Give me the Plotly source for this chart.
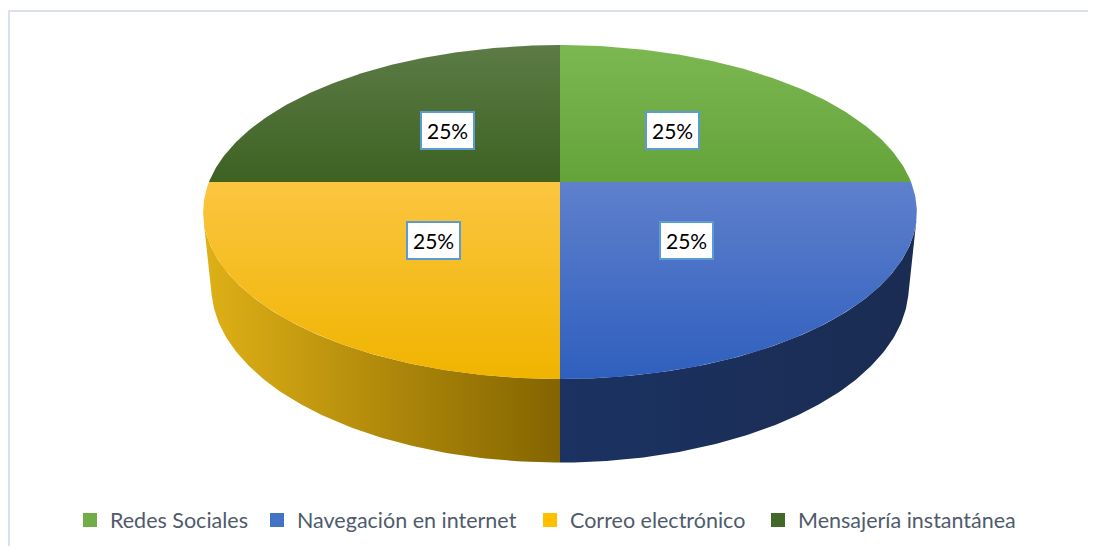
import math
import numpy as np
import plotly.graph_objects as go

# ---- data ----
categories = ["Redes Sociales", "Navegación en internet", "Correo electrónico", "Mensajería instantánea"]
values = [25, 25, 25, 25]
top_colors = [("#64a23a", "#7cb852"), ("#2f5fbe", "#5f80cc"), ("#f0b400", "#fbc540"), ("#3d6222", "#5c7b46")]
side_colors = [("#5a9130", "#3f6a22"), ("#1b3262", "#1a2c52"), ("#dfb016", "#836400"), ("#36571e", "#2a4517")]
legend_colors = ["#70ad47", "#4472c4", "#ffc000", "#43682b"]

# ---- figure geometry (page body has an 8px margin) ----
W, HT = 1080, 538
PIE_CX, PIE_CY = 552, 174      # pixel position of pie centre inside the figure
legend_text_px = [110, 297, 570, 798]   # left positions of the legend texts (page px)

# ---- 3D projection parameters ----
R = 1.0
PHI = math.radians(27.4)      # camera elevation
PERSP = 0.18                  # perspective strength
LCAM = math.cos(PHI) / PERSP
H = LCAM * math.sin(PHI)
D = LCAM * math.cos(PHI)
F = 351 * LCAM
THICK = 0.24
LABEL_R = 0.48


def proj(x, yw, z):
    depth = (H * H - yw * H + z * D + D * D) / LCAM
    up = (yw * D + z * H) / LCAM
    return F * x / depth, F * up / depth


def arc(t0, t1, yw, n=120):
    ts = np.linspace(t0, t1, n)
    pts = [proj(R * math.cos(t), yw, R * math.sin(t)) for t in ts]
    return [p[0] for p in pts], [p[1] for p in pts]


fig = go.Figure()
total = sum(values)
start = math.pi / 2
slices = []
for i, v in enumerate(values):
    sweep = 2 * math.pi * v / total
    a0, a1 = start, start - sweep
    slices.append((a0, a1))
    start = a1

# side faces (visible front part)
t_vis_hi = -math.asin(1 / D)
t_vis_lo = -math.pi - t_vis_hi
for i, (a0, a1) in enumerate(slices):
    lo, hi = min(a0, a1), max(a0, a1)
    for shift in (0, -2 * math.pi, 2 * math.pi):
        l2, h2 = max(lo + shift, t_vis_lo), min(hi + shift, t_vis_hi)
        if h2 > l2:
            xt, yt = arc(l2, h2, 0)
            xb, yb = arc(h2, l2, -THICK)
            fig.add_trace(go.Scatter(
                x=xt + xb + [xt[0]], y=yt + yb + [yt[0]], mode="lines", fill="toself",
                line=dict(width=0), hoverinfo="skip", showlegend=False,
                fillgradient=dict(type="horizontal",
                                  colorscale=[[0, side_colors[i][0]], [1, side_colors[i][1]]])))

# top faces
for i, (a0, a1) in enumerate(slices):
    cx, cy = proj(0, 0, 0)
    xa, ya = arc(a0, a1, 0)
    fig.add_trace(go.Scatter(
        x=[cx] + xa + [cx], y=[cy] + ya + [cy], mode="lines", fill="toself",
        line=dict(width=0), hoverinfo="skip", showlegend=False,
        fillgradient=dict(type="vertical",
                          colorscale=[[0, top_colors[i][0]], [1, top_colors[i][1]]])))

# data labels
for i, (a0, a1) in enumerate(slices):
    mid = (a0 + a1) / 2
    lx, ly = proj(LABEL_R * math.cos(mid), 0, LABEL_R * math.sin(mid))
    fig.add_annotation(x=lx, y=ly, text=f"{values[i] / total * 100:.0f}%", showarrow=False,
                       font=dict(family="Lato", size=21, color="#000000"),
                       bgcolor="#ffffff", bordercolor="#5b9bd5", borderwidth=2, borderpad=5)

# legend entries (one legend per entry so that spacing follows the reference)
legend_layout = {}
for i, c in enumerate(categories):
    lname = "legend" if i == 0 else f"legend{i + 1}"
    fig.add_trace(go.Scatter(x=[None], y=[None], mode="markers", name=c, legend=lname,
                             marker=dict(symbol="square", size=14, color=legend_colors[i])))
    legend_layout[lname] = dict(
        x=(legend_text_px[i] - 8 - 40) / W, xanchor="left",
        y=1 - 512 / HT, yanchor="middle", orientation="h",
        font=dict(family="Lato", size=21.5, color="#4f5b6b"), itemwidth=30,
        bgcolor="rgba(0,0,0,0)")

# chart-area border (only top and left edges fall inside the picture)
border = dict(color="#dbe1e8", width=2)
fig.add_shape(type="line", xref="paper", yref="paper", x0=0, x1=1, y0=1 - 3 / HT, y1=1 - 3 / HT,
              line=border, layer="below")
fig.add_shape(type="line", xref="paper", yref="paper", x0=1 / W, x1=1 / W, y0=0, y1=1 - 3 / HT,
              line=border, layer="below")

fig.update_layout(
    width=W, height=HT,
    margin=dict(l=0, r=0, t=0, b=0),
    paper_bgcolor="#ffffff", plot_bgcolor="#ffffff",
    xaxis=dict(range=[-PIE_CX, W - PIE_CX], visible=False, fixedrange=True),
    yaxis=dict(range=[PIE_CY - HT, PIE_CY], visible=False, fixedrange=True),
    showlegend=True,
    **legend_layout,
)

fig.write_html("out.html")
